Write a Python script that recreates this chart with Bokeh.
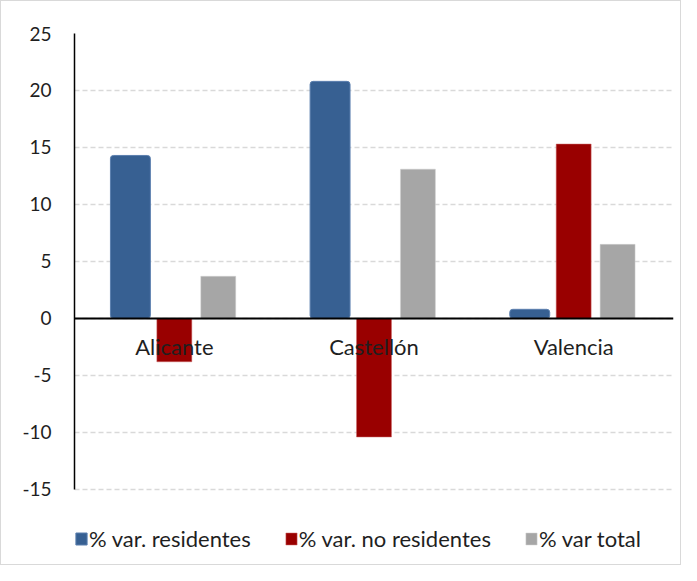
from bokeh.plotting import figure
from bokeh.models import (ColumnDataSource, FactorRange, Range1d, FixedTicker, Span,
                          Legend, LegendItem, PrintfTickFormatter)
from bokeh.transform import dodge
from bokeh.core.properties import value
from bokeh.embed import file_html
from bokeh.resources import INLINE

categories = ["Alicante", "Castellón", "Valencia"]
residentes = [14.3, 20.8, 0.8]
no_residentes = [-3.8, -10.4, 15.3]
total = [3.7, 13.1, 6.5]
y_ticks = [-15, -10, -5, 0, 5, 10, 15, 20, 25]
series_names = ["% var. residentes", "% var. no residentes", "% var total"]

FONT = "Lato"
FS = "22px"
TXT = "#1f1f1f"

src = ColumnDataSource(dict(cat=categories, res=residentes, nores=no_residentes,
                            tot=total, zero=[0] * len(categories)))

# frame extends below -15 to leave room for the legend inside it
p = figure(width=681, height=565, output_backend="svg", toolbar_location=None,
           x_range=FactorRange(*categories, range_padding=0),
           y_range=Range1d(-21.5, 25),
           min_border_left=73, min_border_right=9, min_border_top=32, min_border_bottom=3)
p.styles = {"border": "1px solid #d9d9d9"}
p.outline_line_color = None
p.background_fill_color = "white"

r1 = p.vbar(x=dodge("cat", -0.22, range=p.x_range), top="res", bottom=0, width=0.2,
            source=src, fill_color="#376092", line_color="#5b7fae", line_width=1,
            border_radius=3)
r2 = p.vbar(x=dodge("cat", 0.0, range=p.x_range), top="nores", bottom=0, width=0.175,
            source=src, fill_color="#990000", line_color="#cc6666", line_width=0.5)
r3 = p.vbar(x=dodge("cat", 0.22, range=p.x_range), top="tot", bottom=0, width=0.175,
            source=src, fill_color="#a6a6a6", line_color="#d0d0d0", line_width=0.5)

p.add_layout(Span(location=0, dimension="width", line_color="black", line_width=2))

p.text(x="cat", y="zero", text="cat", source=src, text_font=value(FONT),
       text_font_size=FS, text_color=TXT, text_align="center",
       text_baseline="middle", y_offset=28)

p.xaxis.visible = False
p.xgrid.grid_line_color = None

yax = p.yaxis[0]
yax.ticker = FixedTicker(ticks=y_ticks)
yax.formatter = PrintfTickFormatter(format="%d")
yax.bounds = (-15, 25)
yax.axis_line_color = "black"
yax.axis_line_width = 1.5
yax.major_tick_line_color = None
yax.minor_tick_line_color = None
yax.major_label_standoff = 17
yax.major_label_text_font = FONT
yax.major_label_text_font_size = "19px"
yax.major_label_text_color = TXT

p.ygrid.ticker = FixedTicker(ticks=y_ticks)
p.ygrid.grid_line_color = "#d9d9d9"
p.ygrid.grid_line_dash = "5 3"
p.ygrid.grid_line_width = 1.5

legend = Legend(items=[LegendItem(label=series_names[0], renderers=[r1]),
                       LegendItem(label=series_names[1], renderers=[r2]),
                       LegendItem(label=series_names[2], renderers=[r3])],
                orientation="horizontal", location=(0, 11),
                label_text_font=FONT, label_text_font_size=FS, label_text_color=TXT,
                glyph_width=14, glyph_height=15, label_standoff=1, spacing=33,
                border_line_color=None, background_fill_alpha=0, margin=0, padding=0)
p.add_layout(legend, "center")

open("out.html", "w").write(file_html(p, INLINE))
